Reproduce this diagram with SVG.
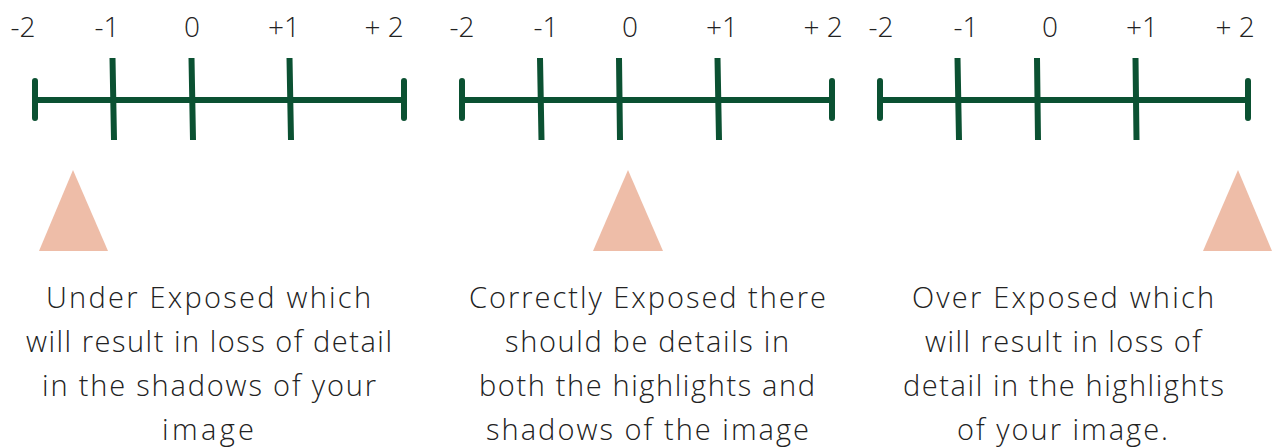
<svg xmlns="http://www.w3.org/2000/svg" width="1275" height="447" viewBox="0 0 1275 447">
<style>
.axis{stroke:#0b5132;stroke-width:6;stroke-linecap:round;fill:none}
.tick{stroke:#0b5132;stroke-width:6;fill:none}
.num{font-family:"Open Sans","Noto Sans",sans-serif;font-weight:300;font-size:28px;fill:#222;text-anchor:middle}
.tri{fill:#eebda8}
.cap{font-family:"Open Sans","Lato",sans-serif;font-weight:300;font-size:29px;fill:#222;text-anchor:middle}
</style>
<rect width="1275" height="447" fill="#fff"/>
<g id="scale-under">
<path class="axis" d="M35 100H404M35 81V118M404 81V118"/>
<path class="tick" d="M112.5 58L114 140M191.5 58L193 140M289.5 58L291 140"/>
<text class="num" x="23" y="37">-2</text>
<text class="num" x="107" y="37">-1</text>
<text class="num" x="192" y="37">0</text>
<text class="num" x="284" y="37">+1</text>
<text class="num" x="384" y="37">+ 2</text>
</g>
<g id="scale-correct">
<path class="axis" d="M462 100H832M462 81V118M832 81V118"/>
<path class="tick" d="M540 58L541.5 140M619 58L620 140M717.5 58L719 140"/>
<text class="num" x="462" y="37">-2</text>
<text class="num" x="546" y="37">-1</text>
<text class="num" x="630" y="37">0</text>
<text class="num" x="722" y="37">+1</text>
<text class="num" x="823" y="37">+ 2</text>
</g>
<g id="scale-over">
<path class="axis" d="M880 100H1248M880 81V118M1248 81V118"/>
<path class="tick" d="M957.5 58L959 140M1037 58L1038 140M1135.5 58L1136.5 140"/>
<text class="num" x="881" y="37">-2</text>
<text class="num" x="966" y="37">-1</text>
<text class="num" x="1050" y="37">0</text>
<text class="num" x="1142" y="37">+1</text>
<text class="num" x="1235" y="37">+ 2</text>
</g>
<g id="marker-under"><polygon class="tri" points="73,170 108,251 39,251"/></g>
<g id="marker-correct"><polygon class="tri" points="628,170 663,251 593,251"/></g>
<g id="marker-over"><polygon class="tri" points="1238,170 1272,251 1203,251"/></g>
<g id="caption-under">
<text class="cap" x="208.5" y="308" textLength="325" lengthAdjust="spacing">Under Exposed which</text>
<text class="cap" x="209" y="352" textLength="366" lengthAdjust="spacing">will result in loss of detail</text>
<text class="cap" x="209" y="396" textLength="334" lengthAdjust="spacing">in the shadows of your</text>
<text class="cap" x="208" y="440" textLength="92" lengthAdjust="spacing">image</text>
</g>
<g id="caption-correct">
<text class="cap" x="647.5" y="308" textLength="357" lengthAdjust="spacing">Correctly Exposed there</text>
<text class="cap" x="647" y="352" textLength="284" lengthAdjust="spacing">should be details in</text>
<text class="cap" x="647" y="396" textLength="336" lengthAdjust="spacing">both the highlights and</text>
<text class="cap" x="647.5" y="440" textLength="323" lengthAdjust="spacing">shadows of the image</text>
</g>
<g id="caption-over">
<text class="cap" x="1063" y="308" textLength="302" lengthAdjust="spacing">Over Exposed which</text>
<text class="cap" x="1063" y="352" textLength="276" lengthAdjust="spacing">will result in loss of</text>
<text class="cap" x="1063.5" y="396" textLength="321" lengthAdjust="spacing">detail in the highlights</text>
<text class="cap" x="1062.5" y="440" textLength="211" lengthAdjust="spacing">of your image.</text>
</g>
</svg>
